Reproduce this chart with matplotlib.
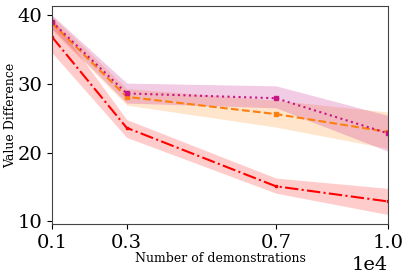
import matplotlib
matplotlib.use("Agg")
import matplotlib.pyplot as plt

demos = [1000, 3000, 7000, 10000]

magenta_mean = [39.0, 28.6, 27.9, 22.8]
magenta_low = [38.0, 27.2, 26.5, 20.2]
magenta_high = [40.0, 30.1, 29.7, 25.4]

orange_mean = [38.8, 28.1, 25.6, 23.0]
orange_low = [37.8, 26.9, 23.7, 20.6]
orange_high = [39.8, 29.3, 27.6, 25.9]

red_mean = [36.8, 23.6, 15.1, 12.9]
red_low = [34.5, 22.2, 14.1, 11.0]
red_high = [39.6, 24.8, 16.3, 14.8]

plt.rcParams["font.family"] = "DejaVu Serif"

fig = plt.figure(figsize=(4.1, 2.75), dpi=100)
ax = fig.add_axes([0.127, 0.185, 0.819, 0.793])

ax.fill_between(demos, orange_low, orange_high, color="#ff8c1a", alpha=0.22, linewidth=0)
ax.fill_between(demos, magenta_low, magenta_high, color="#c71585", alpha=0.22, linewidth=0)
ax.fill_between(demos, red_low, red_high, color="red", alpha=0.2, linewidth=0)

ax.plot(demos, orange_mean, color="#ff7f0e", linestyle="--", marker="s", markersize=2.5)
ax.plot(demos, magenta_mean, color="#c71585", linestyle=":", marker="s", markersize=2.5)
ax.plot(demos, red_mean, color="red", linestyle="-.", marker="s", markersize=1.5)

ax.set_xlim(1000, 10000)
ax.set_ylim(9.6, 41.3)
ax.set_xticks([1000, 3000, 7000, 10000])
ax.set_yticks([10, 20, 30, 40])
ax.ticklabel_format(axis="x", style="sci", scilimits=(0, 0))
ax.tick_params(labelsize=14)
ax.xaxis.get_offset_text().set_fontsize(14)

ax.set_xlabel("Number of demonstrations", fontsize=9, labelpad=0)
ax.set_ylabel("Value Difference", fontsize=9)
ax.yaxis.set_label_coords(-0.105, 0.5)

for s in ax.spines.values():
    s.set_color("#444444")

fig.savefig("out.png", dpi=100)
